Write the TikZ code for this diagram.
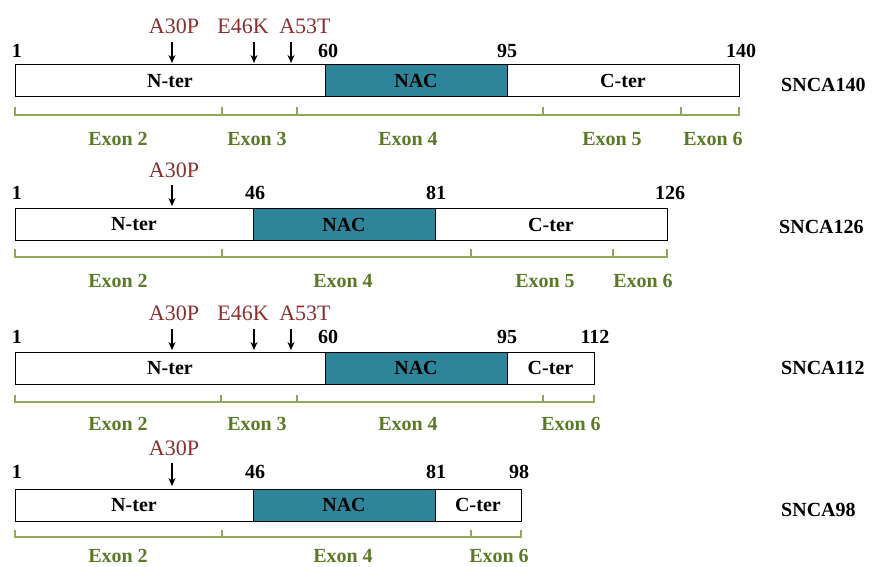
\documentclass[tikz,border=0pt]{standalone}
\usepackage{fontspec}
\setmainfont{Liberation Serif}
\usetikzlibrary{arrows.meta}
\definecolor{nacteal}{HTML}{2E8499}
\definecolor{mutred}{HTML}{8B2E2E}
\definecolor{exontxt}{HTML}{5A7A26}
\definecolor{exonline}{HTML}{8DAA5A}
\tikzset{
  segbox/.style={draw=black, line width=1pt, minimum height=32pt, inner sep=0pt, outer sep=0pt, fill=white, font=\fontsize{20}{20}\selectfont\bfseries},
  nacbox/.style={segbox, fill=nacteal},
  numlbl/.style={font=\fontsize{20}{20}\selectfont\bfseries, inner sep=0pt},
  mutlbl/.style={font=\fontsize{22}{22}\selectfont, text=mutred, inner sep=0pt},
  exlbl/.style={font=\fontsize{20}{20}\selectfont\bfseries, text=exontxt, inner sep=0pt},
  isolbl/.style={font=\fontsize{20}{20}\selectfont\bfseries, inner sep=0pt, anchor=west},
  mutarrow/.style={line width=1.4pt, -{Stealth[length=8pt,width=7pt]}},
  exbracket/.style={draw=exonline, line width=1.2pt}
}
\begin{document}
\begin{tikzpicture}[x=1pt,y=-1pt]
\useasboundingbox (0,0) rectangle (875,567);

% ---------------- Row 1: SNCA140 ----------------
\node[segbox, minimum width=310pt] (n1) at (170,81) {N-ter};
\node[nacbox, minimum width=182pt] (a1) at (416,81) {NAC};
\node[segbox, minimum width=232pt] (c1) at (623,81) {C-ter};
\node[isolbl] (s1) at (781,85) {SNCA140};
\node[numlbl] (r1p1) at (17,51) {1};
\node[numlbl] (r1p60) at (328,51) {60};
\node[numlbl] (r1p95) at (507,51) {95};
\node[numlbl] (r1p140) at (741,51) {140};
\node[mutlbl] (r1m1) at (174,26) {A30P};
\node[mutlbl] (r1m2) at (243,26) {E46K};
\node[mutlbl] (r1m3) at (305,26) {A53T};
\coordinate (r1m1s) at (172,42); \coordinate (r1m1e) at (172,63);
\coordinate (r1m2s) at (254,42); \coordinate (r1m2e) at (254,63);
\coordinate (r1m3s) at (291,42); \coordinate (r1m3e) at (291,63);
\draw[mutarrow] (r1m1s) -- (r1m1e);
\draw[mutarrow] (r1m2s) -- (r1m2e);
\draw[mutarrow] (r1m3s) -- (r1m3e);
\draw[exbracket] (15,107) -- (15,115) -- (739,115) -- (739,107);
\foreach \x in {222,297,543,681} \draw[exbracket] (\x,107) -- (\x,115);
\node[exlbl] (r1e2) at (118,139) {Exon 2};
\node[exlbl] (r1e3) at (257,139) {Exon 3};
\node[exlbl] (r1e4) at (408,139) {Exon 4};
\node[exlbl] (r1e5) at (612,139) {Exon 5};
\node[exlbl] (r1e6) at (713,139) {Exon 6};

% ---------------- Row 2: SNCA126 ----------------
\node[segbox, minimum width=238pt] (n2) at (134,224.5) {N-ter};
\node[nacbox, minimum width=182pt] (a2) at (344,224.5) {NAC};
\node[segbox, minimum width=232pt] (c2) at (551,224.5) {C-ter};
\node[isolbl] (s2) at (779,227) {SNCA126};
\node[numlbl] (r2p1) at (17,193) {1};
\node[numlbl] (r2p46) at (255,193) {46};
\node[numlbl] (r2p81) at (436,193) {81};
\node[numlbl] (r2p126) at (670,193) {126};
\node[mutlbl] (r2m1) at (174,170) {A30P};
\coordinate (r2m1s) at (172,185); \coordinate (r2m1e) at (172,206);
\draw[mutarrow] (r2m1s) -- (r2m1e);
\draw[exbracket] (15,249) -- (15,257) -- (667,257) -- (667,249);
\foreach \x in {222,471,613} \draw[exbracket] (\x,249) -- (\x,257);
\node[exlbl] (r2e2) at (118,281) {Exon 2};
\node[exlbl] (r2e4) at (343,281) {Exon 4};
\node[exlbl] (r2e5) at (545,281) {Exon 5};
\node[exlbl] (r2e6) at (643,281) {Exon 6};

% ---------------- Row 3: SNCA112 ----------------
\node[segbox, minimum width=310pt] (n3) at (170,368) {N-ter};
\node[nacbox, minimum width=182pt] (a3) at (416,368) {NAC};
\node[segbox, minimum width=87pt] (c3) at (550.5,368) {C-ter};
\node[isolbl] (s3) at (781,368) {SNCA112};
\node[numlbl] (r3p1) at (17,337) {1};
\node[numlbl] (r3p60) at (328,337) {60};
\node[numlbl] (r3p95) at (507,337) {95};
\node[numlbl] (r3p112) at (595,337) {112};
\node[mutlbl] (r3m1) at (174,313) {A30P};
\node[mutlbl] (r3m2) at (243,313) {E46K};
\node[mutlbl] (r3m3) at (305,313) {A53T};
\coordinate (r3m1s) at (172,329); \coordinate (r3m1e) at (172,350);
\coordinate (r3m2s) at (254,329); \coordinate (r3m2e) at (254,350);
\coordinate (r3m3s) at (291,329); \coordinate (r3m3e) at (291,350);
\draw[mutarrow] (r3m1s) -- (r3m1e);
\draw[mutarrow] (r3m2s) -- (r3m2e);
\draw[mutarrow] (r3m3s) -- (r3m3e);
\draw[exbracket] (15,395) -- (15,402) -- (594,402) -- (594,395);
\foreach \x in {221,297,543} \draw[exbracket] (\x,395) -- (\x,402);
\node[exlbl] (r3e2) at (118,424) {Exon 2};
\node[exlbl] (r3e3) at (257,424) {Exon 3};
\node[exlbl] (r3e4) at (408,424) {Exon 4};
\node[exlbl] (r3e6) at (571,424) {Exon 6};

% ---------------- Row 4: SNCA98 ----------------
\node[segbox, minimum width=238pt] (n4) at (134,505) {N-ter};
\node[nacbox, minimum width=182pt] (a4) at (344,505) {NAC};
\node[segbox, minimum width=86pt] (c4) at (478,505) {C-ter};
\node[isolbl] (s4) at (781,510) {SNCA98};
\node[numlbl] (r4p1) at (17,472) {1};
\node[numlbl] (r4p46) at (255,472) {46};
\node[numlbl] (r4p81) at (436,472) {81};
\node[numlbl] (r4p98) at (519,472) {98};
\node[mutlbl] (r4m1) at (174,448) {A30P};
\coordinate (r4m1s) at (172,463); \coordinate (r4m1e) at (172,486);
\draw[mutarrow] (r4m1s) -- (r4m1e);
\draw[exbracket] (15,530) -- (15,537) -- (521,537) -- (521,530);
\foreach \x in {222,471} \draw[exbracket] (\x,530) -- (\x,537);
\node[exlbl] (r4e2) at (118,556) {Exon 2};
\node[exlbl] (r4e4) at (343,556) {Exon 4};
\node[exlbl] (r4e6) at (499,556) {Exon 6};
\end{tikzpicture}
\end{document}
